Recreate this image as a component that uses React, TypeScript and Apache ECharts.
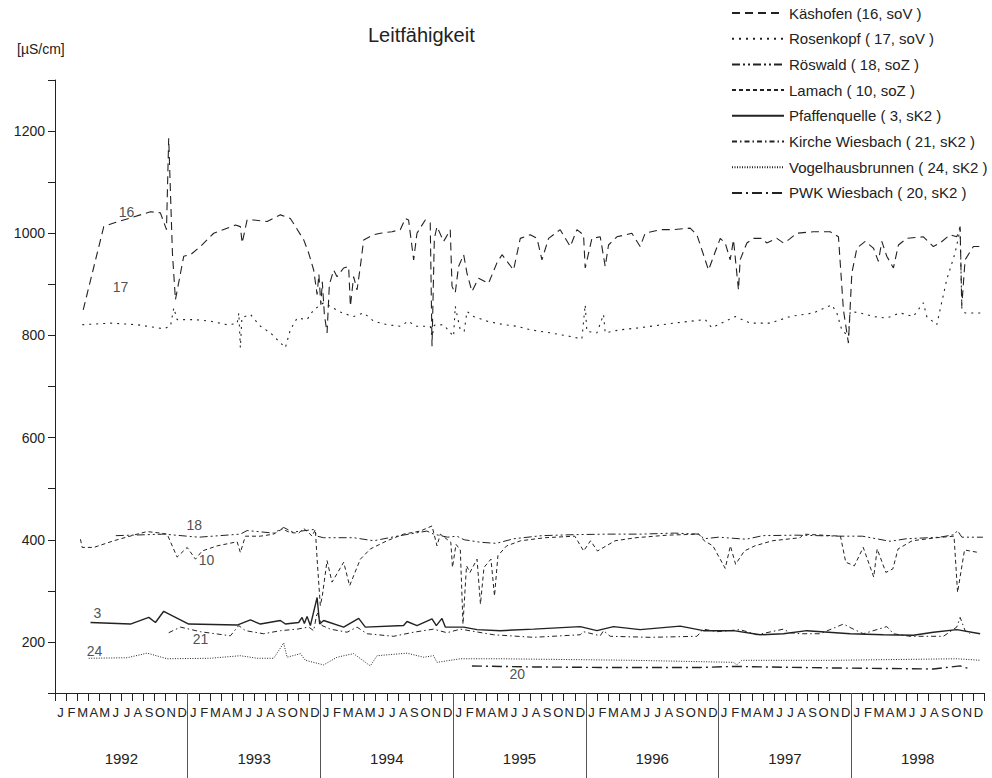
import React, { useEffect, useRef } from "react";
import * as echarts from "echarts";

const FONT = "'Liberation Sans', Arial, sans-serif";
const INK = "#222";

// x values: months since Jan 1992 (0 = 1 Jan 1992, 84 = 1 Jan 1999)
const monthLetters = ["J", "F", "M", "A", "M", "J", "J", "A", "S", "O", "N", "D"];
const years = ["1992", "1993", "1994", "1995", "1996", "1997", "1998"];
const yearStart = 1992;
const yLabelValues = [200, 400, 600, 800, 1000, 1200];

const kaeshofen: [number, number][] = [
  [2.55, 850], [4.41, 1013], [5.31, 1020], [8.63, 1042], [9.53, 1040], [10.08, 1007], [10.28, 1186],
  [10.62, 960], [10.89, 870], [11.64, 955], [12.25, 958], [13.15, 974], [14.35, 1000], [16.31, 1016],
  [16.76, 1013], [16.92, 981], [17.37, 1026], [17.97, 1026], [19.18, 1023], [20.38, 1036], [21.28, 1029],
  [22.49, 987], [22.94, 961], [23.39, 928], [23.7, 880], [23.86, 920], [24.04, 860], [24.17, 905],
  [24.36, 840], [24.6, 805], [24.81, 900], [25.2, 928], [25.5, 915], [26.1, 932], [26.55, 935],
  [26.71, 857], [27.0, 915], [27.31, 889], [27.61, 935], [27.91, 987], [28.81, 997], [29.42, 1000],
  [30.47, 1003], [31.22, 1007], [31.68, 1029], [31.97, 1026], [32.43, 948], [32.73, 1000], [33.48, 1026],
  [33.93, 1020], [34.09, 779], [34.3, 990], [34.54, 1013], [35.14, 984], [35.74, 1007], [35.9, 896],
  [36.19, 883], [36.49, 935], [36.95, 958], [37.25, 922], [37.7, 886], [38.3, 912], [39.2, 902],
  [39.96, 942], [40.42, 958], [41.46, 928], [42.07, 990], [42.97, 997], [43.58, 990], [44.03, 948],
  [44.63, 990], [45.68, 1007], [46.59, 974], [47.19, 1007], [47.79, 997], [47.94, 932], [48.55, 990],
  [49.3, 993], [49.75, 935], [50.05, 977], [50.81, 993], [52.16, 1000], [52.91, 974], [53.36, 1000],
  [54.72, 1007], [55.92, 1007], [57.43, 1010], [58.04, 997], [59.09, 928], [60.15, 990], [60.6, 981],
  [61.05, 948], [61.35, 987], [61.8, 889], [61.95, 948], [62.56, 981], [63.15, 990], [63.91, 990],
  [64.36, 981], [65.27, 990], [65.86, 981], [66.32, 987], [67.08, 1000], [68.58, 1003], [70.09, 1003],
  [70.84, 993], [71.29, 850], [71.74, 785], [72.05, 922], [72.51, 971], [73.26, 984], [74.0, 971],
  [74.45, 945], [74.76, 984], [75.21, 955], [75.81, 932], [76.26, 977], [77.02, 990], [78.52, 993],
  [79.42, 974], [80.03, 981], [80.93, 997], [81.54, 993], [81.84, 1013], [81.99, 857], [82.29, 948],
  [83.04, 974], [83.65, 974],
];

const rosenkopf: [number, number][] = [
  [2.46, 821], [5.02, 824], [7.43, 821], [9.83, 813], [10.44, 818], [10.74, 854], [11.04, 831],
  [12.54, 831], [14.05, 828], [15.56, 821], [16.47, 823], [16.62, 844], [16.76, 776], [16.9, 835],
  [17.67, 841], [18.57, 818], [19.48, 805], [20.08, 792], [20.83, 776], [21.28, 811], [21.89, 834],
  [22.79, 831], [23.39, 850], [24.29, 864], [25.96, 844], [27.0, 837], [27.91, 844], [28.81, 828],
  [30.02, 821], [31.22, 818], [31.97, 828], [32.58, 818], [33.93, 818], [34.09, 798], [34.3, 820],
  [35.14, 821], [36.04, 798], [36.19, 857], [36.64, 811], [37.0, 808], [37.25, 847], [37.85, 837],
  [39.06, 828], [40.56, 821], [41.77, 818], [42.97, 811], [44.78, 805], [46.59, 798], [47.64, 793],
  [47.94, 860], [48.09, 808], [49.0, 805], [49.6, 841], [49.75, 805], [51.1, 811], [52.91, 815],
  [55.92, 824], [58.79, 831], [59.39, 815], [61.5, 837], [62.86, 824], [64.67, 824], [66.47, 837],
  [68.58, 844], [70.24, 860], [70.69, 844], [71.14, 811], [71.74, 798], [71.9, 847], [72.8, 844],
  [74.0, 837], [75.21, 834], [76.41, 844], [77.61, 837], [78.52, 864], [78.82, 837], [79.73, 821],
  [80.63, 909], [81.38, 961], [81.84, 1007], [82.0, 850], [82.29, 844], [83.95, 844],
];

const roeswald: [number, number][] = [
  [5.5, 408], [9.83, 411], [13.0, 405], [16.76, 411], [17.37, 418], [19.77, 413], [20.68, 424],
  [21.5, 415], [23.39, 420], [23.7, 407], [24.29, 404], [27.0, 404], [28.81, 398], [30.93, 407],
  [33.63, 417], [34.24, 411], [35.5, 405], [36.34, 407], [37.0, 400], [38.5, 395], [39.9, 393],
  [41.5, 402], [44.0, 408], [47.0, 410], [50.0, 411], [53.0, 411], [56.0, 413], [58.2, 411],
  [58.7, 402], [60.0, 405], [62.5, 401], [64.0, 408], [67.0, 409], [71.0, 407], [73.0, 407],
  [75.5, 397], [77.0, 402], [80.0, 405], [81.3, 410], [81.6, 418], [82.0, 405], [83.9, 405],
];

const lamach: [number, number][] = [
  [2.3, 401], [2.46, 385], [3.51, 385], [5.31, 398], [7.43, 411], [8.33, 416], [9.53, 413],
  [10.14, 411], [11.04, 366], [11.95, 385], [12.7, 362], [13.3, 378], [14.66, 388], [16.47, 396],
  [16.76, 375], [17.21, 407], [18.57, 407], [19.77, 411], [20.53, 421], [21.28, 414], [22.03, 413],
  [22.49, 422], [22.94, 414], [23.24, 407], [23.54, 420], [23.7, 362], [23.99, 271], [24.17, 290],
  [24.6, 359], [25.05, 317], [26.1, 356], [26.64, 310], [27.61, 362], [28.51, 382], [30.02, 398],
  [31.52, 411], [33.03, 417], [34.09, 427], [34.54, 388], [34.84, 411], [35.79, 395], [35.94, 346],
  [36.26, 391], [36.65, 380], [36.89, 235], [37.21, 349], [37.52, 336], [38.16, 362], [38.47, 274],
  [38.79, 346], [39.42, 362], [39.74, 290], [40.05, 369], [40.84, 388], [42.1, 398], [44.32, 404],
  [47.0, 407], [47.8, 378], [48.42, 398], [49.05, 378], [50.64, 398], [52.53, 404], [55.38, 409],
  [58.22, 411], [58.7, 398], [59.49, 388], [60.6, 344], [61.07, 388], [61.54, 352], [62.33, 378],
  [63.28, 388], [64.86, 398], [67.38, 404], [67.7, 411], [71.02, 407], [71.5, 356], [72.28, 349],
  [73.08, 385], [74.03, 327], [74.34, 382], [75.13, 336], [75.76, 343], [76.23, 382], [77.5, 398],
  [79.71, 404], [81.29, 407], [81.61, 297], [82.24, 380], [83.51, 375],
];

const pfaffenquelle: [number, number][] = [
  [3.21, 238], [6.82, 235], [8.48, 248], [9.08, 238], [9.83, 260], [12.09, 235], [16.47, 233],
  [17.67, 243], [18.57, 235], [20.38, 242], [20.83, 235], [22.03, 238], [22.34, 248], [22.55, 236],
  [22.79, 250], [23.09, 232], [23.7, 287], [23.93, 235], [24.29, 242], [26.1, 229], [27.46, 246],
  [28.06, 229], [31.52, 232], [31.83, 240], [32.73, 232], [34.09, 245], [34.48, 232], [34.99, 246],
  [35.29, 229], [36.95, 229], [38.16, 224], [40.26, 222], [43.27, 225], [47.49, 230], [49.0, 222],
  [50.5, 230], [52.91, 224], [56.53, 231], [58.63, 222], [61.35, 222], [63.76, 214], [65.86, 216],
  [67.98, 222], [71.9, 216], [74.9, 214], [77.61, 213], [79.42, 219], [81.54, 224], [83.65, 216],
];

const kircheWiesbach: [number, number][] = [
  [10.28, 218], [11.34, 229], [13.15, 220], [15.86, 212], [16.61, 232], [17.22, 222], [18.87, 216],
  [20.38, 222], [21.89, 225], [22.94, 229], [23.39, 222], [23.7, 258], [24.15, 232], [24.9, 225],
  [26.41, 219], [27.31, 229], [28.22, 216], [30.62, 211], [32.43, 219], [34.23, 225], [35.44, 218],
  [36.65, 225], [39.66, 214], [43.27, 209], [47.49, 214], [47.79, 220], [49.3, 212], [49.6, 222],
  [50.2, 211], [53.82, 209], [58.04, 211], [58.63, 225], [59.85, 220], [61.95, 224], [63.46, 214],
  [65.86, 225], [66.47, 218], [67.38, 216], [69.19, 216], [71.29, 235], [72.19, 225], [73.09, 216],
  [75.21, 230], [75.81, 216], [77.32, 211], [80.33, 211], [81.54, 229], [81.84, 248], [82.29, 222],
  [82.74, 216],
];

const vogelhausbrunnen: [number, number][] = [
  [3.05, 168], [6.53, 169], [8.33, 178], [10.14, 167], [14.05, 168], [16.76, 173], [18.27, 168],
  [19.77, 168], [20.68, 198], [20.98, 170], [22.19, 177], [22.64, 164], [24.29, 155], [25.5, 170],
  [27.0, 177], [28.51, 153], [29.12, 173], [31.83, 178], [33.33, 170], [34.23, 173], [34.54, 160],
  [36.65, 167], [40.26, 167], [52.31, 164], [61.35, 160], [61.65, 155], [62.1, 164], [70.38, 164],
  [81.54, 167], [83.65, 164],
];

const pwkWiesbach: [number, number][] = [
  [37.7, 153], [40.26, 152], [43.27, 151], [49.3, 150], [58.33, 150], [61.35, 152], [70.38, 149],
  [79.42, 147], [81.84, 153], [82.74, 147],
];

// station numbers written next to the curves: [month, value, text]
const seriesTags: [number, number, string][] = [
  [6.46, 1042, "16"], [5.92, 895, "17"], [12.6, 428, "18"], [13.7, 360, "10"],
  [3.84, 257, "3"], [13.15, 206, "21"], [3.57, 182, "24"], [41.8, 138, "20"],
];

const seriesDefs = [
  { name: "Käshofen (16, soV )", data: kaeshofen, dash: [8, 5], width: 1.1 },
  { name: "Rosenkopf ( 17, soV )", data: rosenkopf, dash: [2, 5], width: 1.1 },
  { name: "Röswald ( 18, soZ )", data: roeswald, dash: [8, 3, 2, 3, 2, 3], width: 1 },
  { name: "Lamach ( 10, soZ )", data: lamach, dash: [4, 3], width: 1 },
  { name: "Pfaffenquelle ( 3, sK2 )", data: pfaffenquelle, dash: "solid", width: 1.4 },
  { name: "Kirche Wiesbach ( 21, sK2 )", data: kircheWiesbach, dash: [5, 3, 1.5, 3], width: 1 },
  { name: "Vogelhausbrunnen ( 24, sK2 )", data: vogelhausbrunnen, dash: [1, 1.5], width: 1 },
  { name: "PWK Wiesbach ( 20, sK2 )", data: pwkWiesbach, dash: [10, 4, 2, 4], width: 1.4 },
];

export default function App() {
  const ref = useRef<HTMLDivElement>(null);

  useEffect(() => {
    if (!ref.current) return;
    const chart = echarts.init(ref.current, undefined, { renderer: "svg" });

    const monthCats: string[] = [];
    years.forEach(() => monthLetters.forEach((m) => monthCats.push(m)));
    const nMonths = years.length * 12;
    const yearDividers = years.slice(1).map((_, i) => (i + 1) * 12);
    const yearCenters = years.map((_, i) => i * 12 + 6);

    const lineSeries = seriesDefs.map((s) => ({
      name: s.name,
      type: "line",
      data: s.data,
      xAxisIndex: 0,
      yAxisIndex: 0,
      showSymbol: false,
      symbol: "none",
      silent: true,
      lineStyle: { color: INK, width: s.width, type: s.dash as any },
      itemStyle: { color: INK },
    }));

    const tagSeries = {
      name: "tags",
      type: "scatter",
      xAxisIndex: 0,
      yAxisIndex: 0,
      symbolSize: 1,
      silent: true,
      itemStyle: { color: "rgba(0,0,0,0)" },
      data: seriesTags.map((t) => ({ value: [t[0], t[1]], name: t[2] })),
      label: {
        show: true,
        position: "inside",
        formatter: "{b}",
        color: INK,
        fontSize: 14,
        fontFamily: FONT,
      },
    };

    chart.setOption({
      animation: false,
      backgroundColor: "#fff",
      title: [
        {
          text: "Leitfähigkeit",
          left: 363,
          top: 20,
          textStyle: { fontSize: 20, fontWeight: "normal", color: INK, fontFamily: FONT },
        },
        {
          text: "[µS/cm]",
          left: 12,
          top: 37,
          textStyle: { fontSize: 14, fontWeight: "normal", color: INK, fontFamily: FONT },
        },
      ],
      legend: {
        orient: "vertical",
        left: 726,
        top: 0,
        itemWidth: 52,
        itemHeight: 16,
        itemGap: 9.7,
        selectedMode: false,
        data: seriesDefs.map((s) => s.name),
        itemStyle: { opacity: 0, borderWidth: 0 },
        textStyle: { fontSize: 15, color: INK, fontFamily: FONT, lineHeight: 16 },
      },
      grid: { left: 55, right: 8, top: 80, bottom: 85, containLabel: false },
      xAxis: [
        {
          type: "value",
          min: 0,
          max: nMonths,
          interval: 1,
          position: "bottom",
          axisLine: { show: true, onZero: false, lineStyle: { color: INK, width: 1 } },
          axisTick: { show: true, length: 8, lineStyle: { color: INK } },
          axisLabel: { show: false },
          splitLine: { show: false },
        },
        {
          type: "category",
          data: monthCats,
          position: "bottom",
          boundaryGap: true,
          axisLine: { show: false },
          axisTick: { show: false },
          axisLabel: { interval: 0, margin: 13, fontSize: 13, color: INK, fontFamily: FONT },
          splitLine: { show: false },
        },
        {
          type: "value",
          min: 0,
          max: nMonths,
          position: "bottom",
          axisLine: { show: false },
          axisTick: {
            show: true,
            length: 85,
            customValues: yearDividers,
            lineStyle: { color: "#555" },
          },
          axisLabel: {
            customValues: yearCenters,
            margin: 58,
            fontSize: 15,
            color: INK,
            fontFamily: FONT,
            formatter: (v: number) => String(yearStart + Math.floor(v / 12)),
          },
          splitLine: { show: false },
        },
      ],
      yAxis: {
        type: "value",
        min: 100,
        max: 1300,
        interval: 100,
        axisLine: { show: true, lineStyle: { color: INK } },
        axisTick: { show: true, length: 7, lineStyle: { color: INK } },
        axisLabel: {
          margin: 10,
          fontSize: 14,
          color: INK,
          fontFamily: FONT,
          formatter: (v: number) => (yLabelValues.indexOf(v) >= 0 ? String(v) : ""),
        },
        splitLine: { show: false },
      },
      series: [...lineSeries, tagSeries],
    });

    return () => chart.dispose();
  }, []);

  return (
    <div
      ref={ref}
      style={{ position: "fixed", left: 0, top: 0, width: 992, height: 778, background: "#fff" }}
    />
  );
}
